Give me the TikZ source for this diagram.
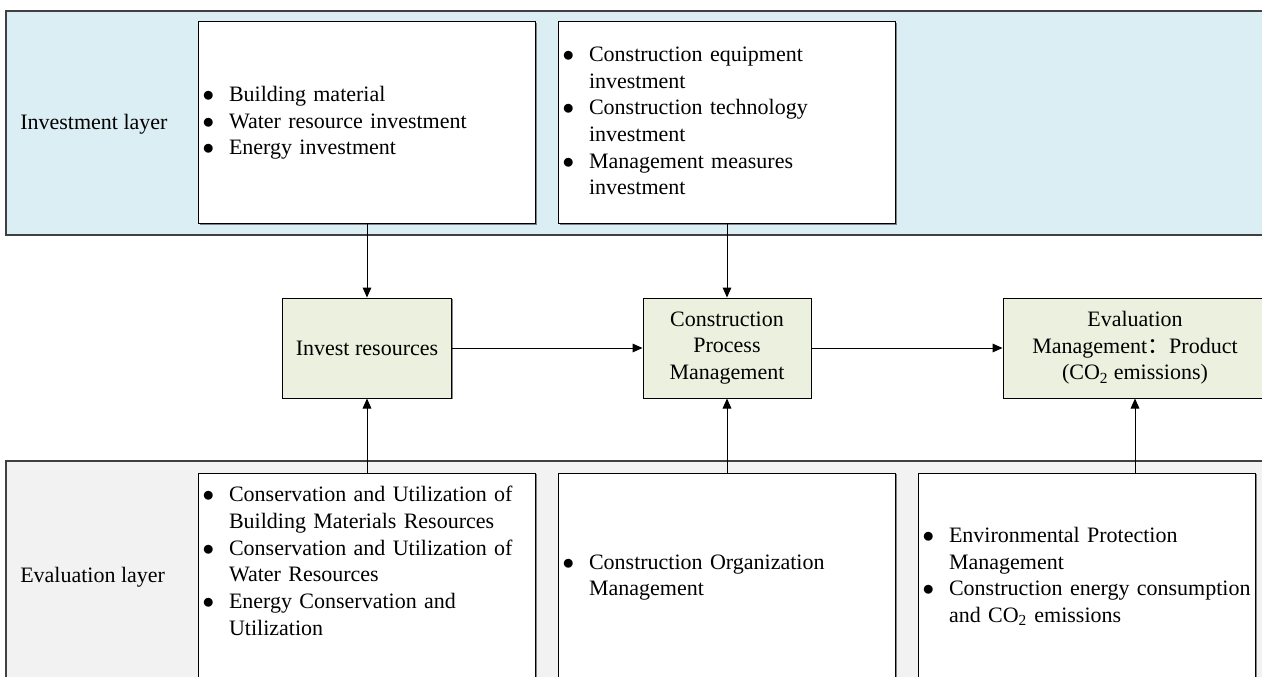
\documentclass[tikz,border=0pt]{standalone}
\usepackage{fontspec}
\setmainfont{Liberation Serif}
\newfontfamily\cjk{Noto Sans CJK SC}
\usetikzlibrary{arrows.meta,shadows}

% bullet list: bullet column + text column
\newcommand{\itemlist}[1]{\begin{tabular}{@{}l@{\hspace{11.25pt}}l@{}}#1\end{tabular}}
\newcommand{\bl}{$\bullet$}

\begin{document}
\begin{tikzpicture}[x=0.75pt, y=-0.75pt,
    font=\fontsize{16.5pt}{20pt}\selectfont,
    >={Triangle[length=7.5pt,width=6.5pt]},
    layer/.style={draw=black!75, line width=0.8pt},
    listbox/.style={draw, fill=white, line width=0.75pt,
      minimum width=252.75pt, text width=246.75pt, inner xsep=3pt, align=left,
      drop shadow={shadow xshift=0.8pt, shadow yshift=-0.8pt, fill=black!60, opacity=0.8}},
    stepbox/.style={draw, fill=stepfill, line width=0.75pt,
      minimum height=75pt, align=center,
      drop shadow={shadow xshift=0.8pt, shadow yshift=-0.8pt, fill=black!60, opacity=0.8}},
    link/.style={->, line width=0.75pt}]

  % Colors: light blue, light grey, light green
  \definecolor{investfill}{RGB}{218,238,243}
  \definecolor{evalfill}{RGB}{242,242,242}
  \definecolor{stepfill}{RGB}{235,241,222}

  \useasboundingbox (0,0) rectangle (1262,677);

  % --- Investment layer ---
  \draw[layer, fill=investfill] (6,11) rectangle (1290,235);
  \node[anchor=west, inner sep=0pt] (investlayer) at (20,124) {Investment layer};

  \node[listbox, minimum height=151.5pt] (inmat) at (367,123)
    {\itemlist{\bl & Building material\\
               \bl & Water resource investment\\
               \bl & Energy investment}};
  \node[listbox, minimum height=151.5pt] (inequip) at (727,123)
    {\itemlist{\bl & Construction equipment\\
                   & investment\\
               \bl & Construction technology\\
                   & investment\\
               \bl & Management measures\\
                   & investment}};

  % --- Evaluation layer ---
  \draw[layer, fill=evalfill] (6,461) rectangle (1290,700);
  \node[anchor=west, inner sep=0pt] (evallayer) at (20,577) {Evaluation layer};

  \node[listbox, minimum height=156pt] (evmat) at (367,577)
    {\itemlist{\bl & Conservation and Utilization of\\
                   & Building Materials Resources\\
               \bl & Conservation and Utilization of\\
                   & Water Resources\\
               \bl & Energy Conservation and\\
                   & Utilization\\[21pt]}};
  \node[listbox, minimum height=156pt] (evorg) at (727,577)
    {\itemlist{\bl & Construction Organization\\
                   & Management}};
  \node[listbox, minimum height=156pt] (evenv) at (1087,577)
    {\itemlist{\bl & Environmental Protection\\
                   & Management\\
               \bl & Construction energy consumption\\
                   & and CO\textsubscript{2} emissions}};

  % --- process chain ---
  \node[stepbox, minimum width=126.75pt] (invest) at (367,348) {Invest resources};
  \node[stepbox, minimum width=126pt] (process) at (727,348)
    {Construction\\ Process\\ Management};
  \node[stepbox, minimum width=198pt] (evalmgmt) at (1135,348)
    {Evaluation\\ Management{\cjk ：}Product\\ (CO\textsubscript{2} emissions)};

  % arrows
  \draw[link] (inmat.south) -- (invest.north);
  \draw[link] (inequip.south) -- (process.north);
  \draw[link] (invest.east) -- (process.west);
  \draw[link] (process.east) -- (evalmgmt.west);
  \draw[link] (evmat.north) -- (invest.south);
  \draw[link] (evorg.north) -- (process.south);
  \draw[link] (evenv.north -| evalmgmt.south) -- (evalmgmt.south);

\end{tikzpicture}
\end{document}
